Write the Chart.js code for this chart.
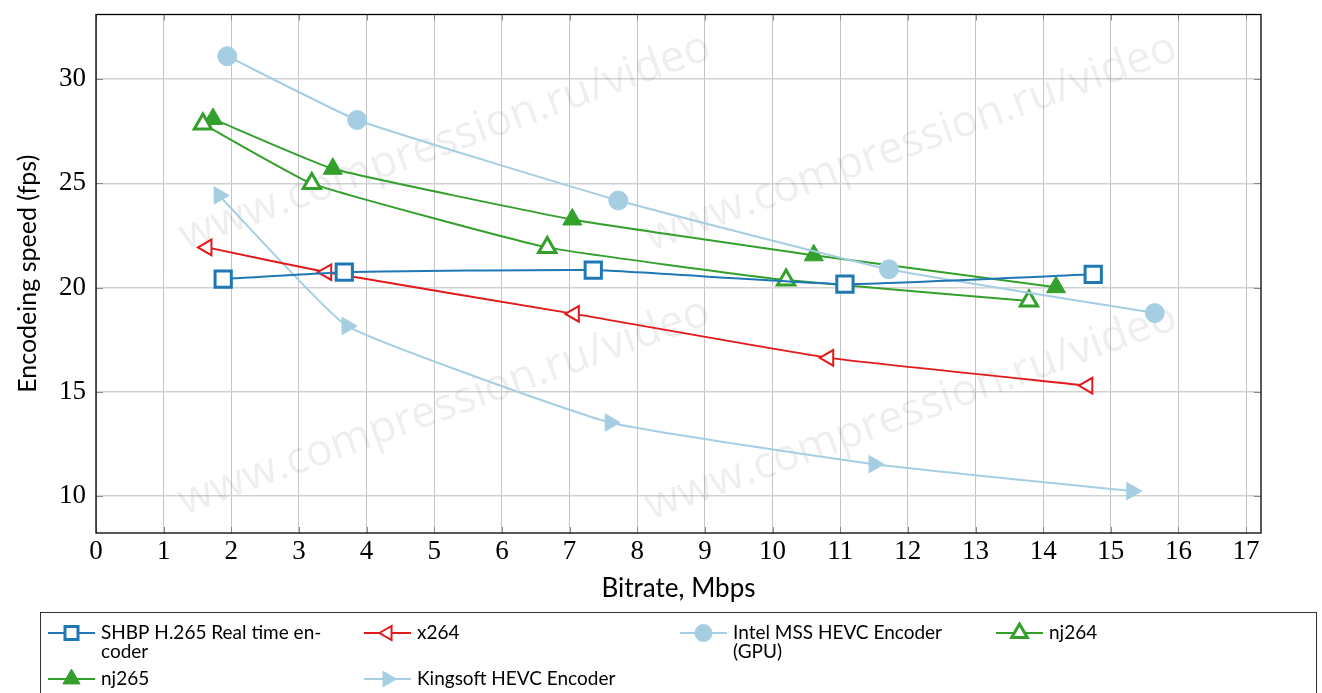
<!DOCTYPE html>
<html>
<head>
<meta charset="utf-8">
<script src="https://cdn.jsdelivr.net/npm/chart.js@4/dist/chart.umd.min.js"></script>
<style>
html,body{margin:0;padding:0;background:#fff;}
canvas{display:block;}
</style>
</head>
<body>
<canvas id="c" width="1322" height="693"></canvas>
<script>
// ---- data ----
const shbpX  = [1.88, 3.67, 7.35, 11.07, 14.74];
const shbpY  = [20.41, 20.74, 20.84, 20.17, 20.64];
const x264X  = [1.64, 3.41, 7.07, 10.83, 14.66];
const x264Y  = [21.93, 20.74, 18.74, 16.63, 15.30];
const intelX = [1.94, 3.86, 7.72, 11.72, 15.65];
const intelY = [31.10, 28.04, 24.18, 20.88, 18.78];
const nj264X = [1.58, 3.19, 6.67, 10.20, 13.79];
const nj264Y = [27.85, 24.99, 21.93, 20.36, 19.36];
const nj265X = [1.73, 3.50, 7.04, 10.61, 14.19];
const nj265Y = [28.09, 25.70, 23.27, 21.55, 20.02];
const kingX  = [1.82, 3.71, 7.60, 11.50, 15.31];
const kingY  = [24.42, 18.16, 13.53, 11.53, 10.24];

const xTicks = [0,1,2,3,4,5,6,7,8,9,10,11,12,13,14,15,16,17];
const yTicks = [10, 15, 20, 25, 30];

const seriesNames = [
  ["SHBP H.265 Real time en-", "coder"],
  ["x264"],
  ["Intel MSS HEVC Encoder", "(GPU)"],
  ["nj264"],
  ["nj265"],
  ["Kingsoft HEVC Encoder"]
];
const xTitle = "Bitrate, Mbps";
const yTitle = "Encodeing speed (fps)";
const watermark = "www.compression.ru/video";

// ---- styles ----
const C_BLUE = '#1f78b4', C_LBLUE = '#a6cee3', C_GREEN = '#33a02c', C_RED = '#e31a1c';

function pts(xs, ys){ return xs.map((x,i)=>({x:x, y:ys[i]})); }

const seriesStyles = [
  {color:C_BLUE,  style:'rect',     radius:11.5, rot:0,   open:true,  bw:3},
  {color:C_RED,   style:'triangle', radius:9,    rot:-90, open:true,  bw:2},
  {color:C_LBLUE, style:'circle',   radius:9.5,  rot:0,   open:false, bw:1},
  {color:C_GREEN, style:'triangle', radius:10,   rot:0,   open:true,  bw:3},
  {color:C_GREEN, style:'triangle', radius:11,   rot:0,   open:false, bw:1},
  {color:C_LBLUE, style:'triangle', radius:10,   rot:90,  open:false, bw:1}
];
const seriesData = [pts(shbpX,shbpY), pts(x264X,x264Y), pts(intelX,intelY),
                    pts(nj264X,nj264Y), pts(nj265X,nj265Y), pts(kingX,kingY)];

const datasets = seriesData.map((d,i)=>{
  const s = seriesStyles[i];
  return {
    label: seriesNames[i].join(''),
    data: d,
    borderColor: s.color,
    borderWidth: 2,
    tension: 0.12,
    pointStyle: s.style,
    pointRadius: s.radius,
    pointHoverRadius: s.radius,
    pointRotation: s.rot,
    pointBackgroundColor: s.open ? '#ffffff' : s.color,
    pointBorderColor: s.color,
    pointBorderWidth: s.bw,
    fill: false
  };
});

const wmCenters = [[445,142],[911,143],[444,407],[911,412]];

const decor = {
  id: 'decor',
  beforeDatasetsDraw(chart){
    const ctx = chart.ctx, a = chart.chartArea;
    ctx.save();
    ctx.beginPath(); ctx.rect(a.left, a.top, a.right-a.left, a.bottom-a.top); ctx.clip();
    ctx.fillStyle = 'rgba(0,0,0,0.065)';
    ctx.font = '44px "Open Sans", "DejaVu Sans", sans-serif';
    ctx.textAlign = 'center'; ctx.textBaseline = 'middle';
    wmCenters.forEach(c=>{
      ctx.save(); ctx.translate(c[0], c[1]); ctx.rotate(-20*Math.PI/180);
      ctx.fillText(watermark, 0, 0); ctx.restore();
    });
    ctx.restore();
  },
  afterDraw(chart){
    const ctx = chart.ctx, a = chart.chartArea;
    const xs = chart.scales.x, ys = chart.scales.y;
    ctx.save();
    // inner tick marks
    ctx.strokeStyle = '#8a8a8a'; ctx.lineWidth = 1;
    ctx.beginPath();
    xTicks.forEach(v=>{
      const px = Math.round(xs.getPixelForValue(v))+0.5;
      ctx.moveTo(px, a.bottom); ctx.lineTo(px, a.bottom-6);
      ctx.moveTo(px, a.top); ctx.lineTo(px, a.top+6);
    });
    yTicks.forEach(v=>{
      const py = Math.round(ys.getPixelForValue(v))+0.5;
      ctx.moveTo(a.left, py); ctx.lineTo(a.left+7, py);
      ctx.moveTo(a.right, py); ctx.lineTo(a.right-7, py);
    });
    ctx.stroke();
    // frame
    ctx.strokeStyle = '#000'; ctx.lineWidth = 1.3;
    ctx.strokeRect(a.left, a.top, a.right-a.left, a.bottom-a.top);

    // legend
    const lx0 = 40, lx1 = 1316, ly0 = 612;
    ctx.strokeStyle = '#333'; ctx.lineWidth = 1;
    ctx.strokeRect(lx0+0.5, ly0+0.5, lx1-lx0, 120);
    const colX = [48, 364, 680, 996];
    const rowY = [633, 679];
    ctx.font = '19px Lato, "Noto Sans", sans-serif';
    ctx.textBaseline = 'middle'; ctx.textAlign = 'left';
    seriesNames.forEach((lines,i)=>{
      const s = seriesStyles[i];
      const x = colX[i%4], y = rowY[Math.floor(i/4)];
      ctx.strokeStyle = s.color; ctx.lineWidth = 2;
      ctx.beginPath(); ctx.moveTo(x, y); ctx.lineTo(x+47, y); ctx.stroke();
      ctx.fillStyle = s.open ? '#ffffff' : s.color;
      ctx.strokeStyle = s.color; ctx.lineWidth = s.bw;
      const r = s.style === 'rect' ? s.radius*0.8 : s.radius*0.9;
      Chart.helpers.drawPoint(ctx, {pointStyle:s.style, radius:r, rotation:s.rot, borderWidth:s.bw}, x+23.5, y);
      ctx.fillStyle = '#000';
      lines.forEach((t,k)=>{ ctx.fillText(t, x+53, y + k*19); });
    });
    ctx.restore();
  }
};

new Chart(document.getElementById('c'), {
  type: 'line',
  data: { datasets: datasets },
  options: {
    responsive: false,
    animation: false,
    devicePixelRatio: 1,
    layout: { padding: { left: 0, top: 10, right: 61, bottom: 89 } },
    plugins: { legend: { display: false }, tooltip: { enabled: false } },
    scales: {
      x: {
        type: 'linear', min: 0, max: 17.22,
        afterFit(s){ s.height = 71; s.paddingLeft = 0; s.paddingRight = 0; },
        afterBuildTicks(s){ s.ticks = xTicks.map(v=>({value:v})); },
        grid: { color: '#c4c4c4', lineWidth: 1, drawTicks: false },
        border: { display: false },
        ticks: { font: { family: '"Liberation Serif", serif', size: 27 }, color: '#000', padding: 3, maxRotation: 0, autoSkip: false },
        title: { display: true, text: xTitle, color: '#000', font: { family: 'Lato, sans-serif', size: 26 }, padding: { top: 0, bottom: 0 } }
      },
      y: {
        type: 'linear', min: 8.23, max: 33.1,
        afterFit(s){ s.width = 96; s.paddingTop = 0; s.paddingBottom = 0; },
        afterBuildTicks(s){ s.ticks = yTicks.map(v=>({value:v})); },
        grid: { color: '#d2d2d2', lineWidth: 1.5, drawTicks: false },
        border: { display: false },
        ticks: { font: { family: '"Liberation Serif", serif', size: 27 }, color: '#000', padding: 10 },
        title: { display: true, text: yTitle, color: '#000', font: { family: 'Lato, sans-serif', size: 25 }, padding: { top: 13, bottom: 0 } }
      }
    }
  },
  plugins: [decor]
});
</script>
</body>
</html>
